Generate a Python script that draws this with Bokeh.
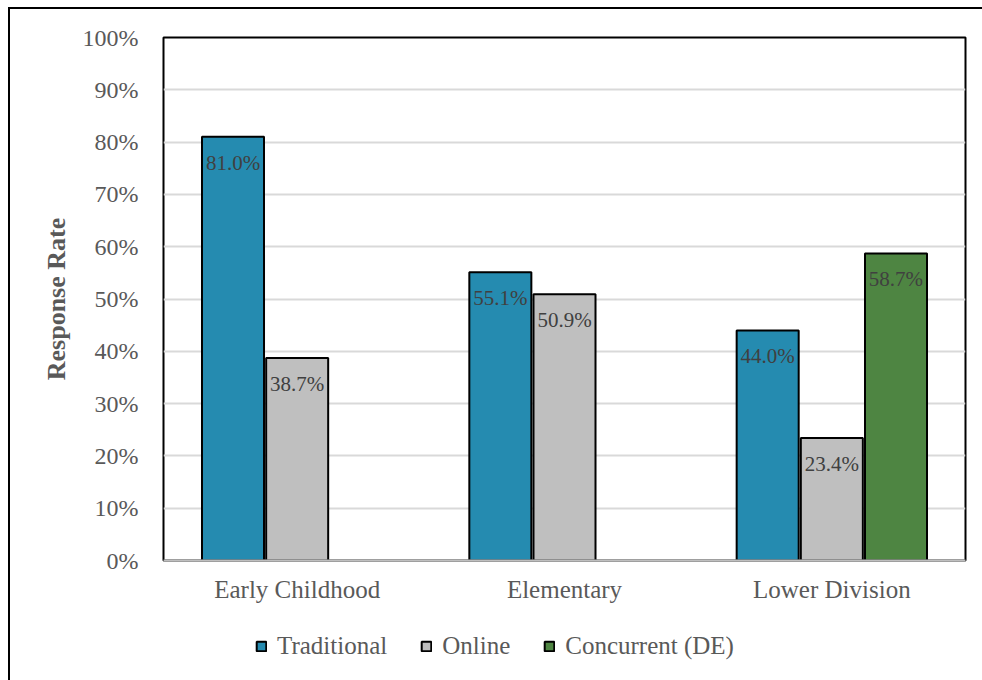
import numpy as np
from bokeh.plotting import figure
from bokeh.layouts import column
from bokeh.models import (ColumnDataSource, FactorRange, Range1d, FixedTicker,
                          NumeralTickFormatter, Legend, LegendItem)
from bokeh.transform import dodge
from bokeh.embed import file_html
from bokeh.resources import INLINE

# Response rates by program level and delivery mode
categories = ["Early Childhood", "Elementary", "Lower Division"]
traditional = [0.810, 0.551, 0.440]
online = [0.387, 0.509, 0.234]
concurrent = [None, None, 0.587]
series_names = ["Traditional", "Online", "Concurrent (DE)"]
y_ticks = [0.0, 0.1, 0.2, 0.3, 0.4, 0.5, 0.6, 0.7, 0.8, 0.9, 1.0]

colors = ["#258BB0", "#BFBFBF", "#4E8542"]
offsets = [-0.24, 0.0, 0.24]
bar_width = 0.232
FONT = "Liberation Serif"
TEXT = "#595959"


def make_source(values):
    cats = [c for c, v in zip(categories, values) if v is not None]
    vals = [v for v in values if v is not None]
    labs = ["%.1f%%" % (v * 100) for v in vals]
    return ColumnDataSource(dict(cat=cats, val=vals, lab=labs))


p = figure(
    x_range=FactorRange(*categories, range_padding=0),
    y_range=Range1d(0, 1),
    width=972, height=606,
    min_border_left=153, min_border_right=17,
    min_border_top=28, min_border_bottom=55,
    output_backend="svg", toolbar_location=None,
    background_fill_color="white", border_fill_color="white",
)

p.outline_line_color = "black"
p.outline_line_width = 2
p.xgrid.grid_line_color = None
p.ygrid.grid_line_color = "#D9D9D9"
p.ygrid.grid_line_width = 2

p.yaxis.ticker = FixedTicker(ticks=y_ticks)
p.yaxis.formatter = NumeralTickFormatter(format="0%")
p.yaxis.axis_line_color = None
p.yaxis.major_tick_line_color = None
p.yaxis.minor_tick_line_color = None
p.yaxis.major_label_standoff = 19
p.yaxis.major_label_text_font = FONT
p.yaxis.major_label_text_font_size = "24px"
p.yaxis.major_label_text_color = TEXT
p.yaxis.axis_label = "Response Rate"
p.yaxis.axis_label_text_font = FONT
p.yaxis.axis_label_text_font_size = "26px"
p.yaxis.axis_label_text_font_style = "bold"
p.yaxis.axis_label_text_color = TEXT
p.yaxis.axis_label_standoff = 9

p.xaxis.axis_line_color = "#BFBFBF"
p.xaxis.axis_line_width = 2
p.xaxis.major_tick_line_color = None
p.xaxis.minor_tick_line_color = None
p.xaxis.major_label_standoff = 9
p.xaxis.major_label_text_font = FONT
p.xaxis.major_label_text_font_size = "25px"
p.xaxis.major_label_text_color = TEXT

for values, color, off in zip([traditional, online, concurrent], colors, offsets):
    src = make_source(values)
    p.vbar(x=dodge("cat", off, range=p.x_range), top="val", width=bar_width,
           source=src, fill_color=color, line_color="black", line_width=2)
    p.text(x=dodge("cat", off, range=p.x_range), y="val", text="lab", source=src,
           text_align="center", text_baseline="top", y_offset=14,
           text_font=FONT, text_font_size="21px", text_color="#404040")

# Legend strip below the chart (its frame lines up with the chart frame)
leg_fig = figure(
    x_range=Range1d(0, 1), y_range=Range1d(0, 1),
    width=972, height=65, min_border=0,
    output_backend="svg", toolbar_location=None,
    background_fill_color="white", border_fill_color="white",
)
leg_fig.axis.visible = False
leg_fig.grid.grid_line_color = None
leg_fig.outline_line_color = None

items = []
for name, color in zip(series_names, colors):
    # swatch-only renderers: NaN coordinates draw nothing, the legend entry still shows
    r = leg_fig.vbar(x=np.array([np.nan]), top=np.array([np.nan]), width=0.1,
                     fill_color=color, line_color="black", line_width=2)
    items.append(LegendItem(label=name, renderers=[r]))

legend = Legend(items=items, orientation="horizontal", location=(92, 20),
                glyph_width=12, glyph_height=12, label_standoff=10, spacing=33,
                padding=0, margin=0, border_line_color=None,
                background_fill_alpha=0,
                label_text_font=FONT, label_text_font_size="25px",
                label_text_color=TEXT)
leg_fig.add_layout(legend, "center")

layout = column(p, leg_fig, spacing=0)
layout.styles = {"margin-left": "8px", "margin-top": "7px",
                 "border-left": "2px solid black", "border-top": "2px solid black"}

open("out.html", "w").write(file_html(layout, INLINE))
